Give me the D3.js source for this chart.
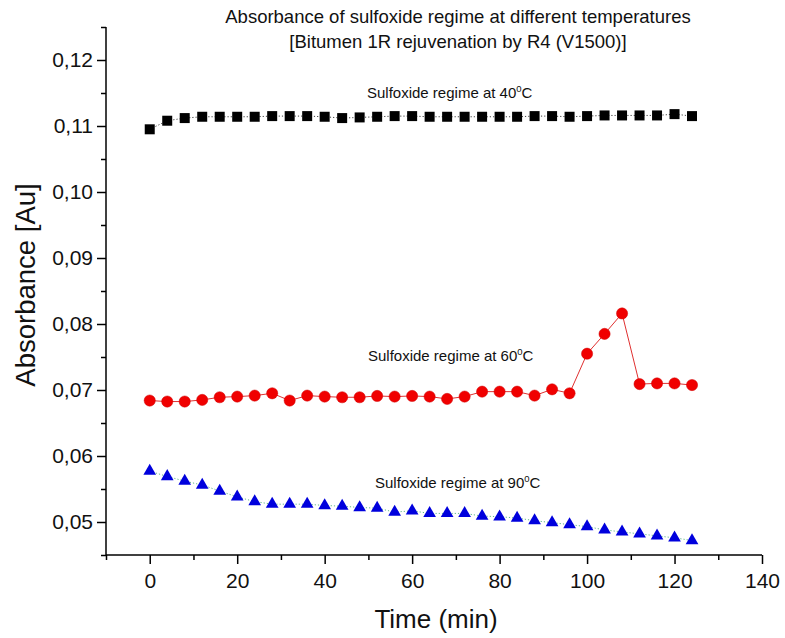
<!DOCTYPE html>
<html>
<head>
<meta charset="utf-8">
<script src="https://cdn.jsdelivr.net/npm/d3@7"></script>
<style>
  html, body { margin: 0; padding: 0; background: #fff; }
  svg { display: block; font-family: "Liberation Sans", Arial, sans-serif; }
</style>
</head>
<body>
<svg id="chart" width="785" height="638"></svg>
<script>
// Sampling times (min)
const times = [0, 4, 8, 12, 16, 20, 24, 28, 32, 36, 40, 44, 48, 52, 56, 60,
               64, 68, 72, 76, 80, 84, 88, 92, 96, 100, 104, 108, 112, 116, 120, 124];

// Absorbance of the sulfoxide band at 40 °C
const abs40 = [0.1095, 0.1108, 0.1112, 0.1114, 0.1114, 0.1114, 0.1114, 0.1115,
               0.1115, 0.1115, 0.1114, 0.1112, 0.1113, 0.1114, 0.1115, 0.1115,
               0.1114, 0.1114, 0.1114, 0.1114, 0.1114, 0.1114, 0.1115, 0.1115,
               0.1114, 0.1115, 0.1116, 0.1116, 0.1116, 0.1116, 0.1118, 0.1115];

// Absorbance of the sulfoxide band at 60 °C
const abs60 = [0.0684, 0.06825, 0.06825, 0.0685, 0.0689, 0.0690, 0.06915, 0.0695,
               0.0684, 0.06915, 0.0690, 0.0689, 0.0689, 0.0691, 0.0690, 0.0691,
               0.0690, 0.06865, 0.0690, 0.06975, 0.06975, 0.06975, 0.06915, 0.0701,
               0.0695, 0.0755, 0.0785, 0.0816, 0.0709, 0.0710, 0.0710, 0.07075];

// Absorbance of the sulfoxide band at 90 °C
const abs90 = [0.0577, 0.0569, 0.0562, 0.0556, 0.0547, 0.0538, 0.0531, 0.0527,
               0.0527, 0.0527, 0.0525, 0.0524, 0.0522, 0.0521, 0.0515, 0.0517,
               0.0513, 0.0513, 0.0513, 0.0509, 0.0508, 0.0506, 0.0502, 0.0499,
               0.0496, 0.0493, 0.0488, 0.0485, 0.0482, 0.0479, 0.0476, 0.0472];

// Axis ticks
const xTicks = [0, 20, 40, 60, 80, 100, 120, 140];
const xMinorTicks = [-10, 10, 30, 50, 70, 90, 110, 130];
const yTicks = [0.05, 0.06, 0.07, 0.08, 0.09, 0.10, 0.11, 0.12];
const yMinorTicks = [0.045, 0.055, 0.065, 0.075, 0.085, 0.095, 0.105, 0.115, 0.125];

const titleLines = ["Absorbance of sulfoxide regime at different temperatures",
                    "[Bitumen 1R rejuvenation by R4 (V1500)]"];
const seriesLabels = [
  { base: "Sulfoxide regime at 40", t: 0.1142, x: 367 },
  { base: "Sulfoxide regime at 60", t: 0.0744, x: 368 },
  { base: "Sulfoxide regime at 90", t: 0.0551, x: 375 }
];

const svg = d3.select("#chart");

const x = d3.scaleLinear().domain([-10, 140]).range([106, 762]);
const y = d3.scaleLinear().domain([0.045, 0.125]).range([555, 27]);

const fmt = d => d3.format(".2f")(d).replace(".", ",");

// X axis
const gx = svg.append("g").attr("transform", `translate(0,${y(0.045)})`);
gx.call(d3.axisBottom(x).tickValues(xTicks).tickFormat(d3.format("d"))
        .tickSize(9).tickPadding(9));
gx.append("g").call(d3.axisBottom(x).tickValues(xMinorTicks).tickFormat("").tickSize(5))
  .select(".domain").remove();
gx.selectAll("text").attr("font-size", 21).attr("fill", "#111").style("font-family", "inherit");

// Y axis
const gy = svg.append("g").attr("transform", `translate(${x(-10)},0)`);
gy.call(d3.axisLeft(y).tickValues(yTicks).tickFormat(fmt)
        .tickSize(9).tickPadding(4));
gy.append("g").call(d3.axisLeft(y).tickValues(yMinorTicks).tickFormat("").tickSize(5))
  .select(".domain").remove();
gy.selectAll("text").attr("font-size", 21).attr("fill", "#111").style("font-family", "inherit");

svg.selectAll(".domain, .tick line").attr("stroke", "#000").attr("stroke-width", 1.5);
gx.select(".domain").attr("d", `M${x(-10)},0H${x(140)}`);
gy.select(".domain").attr("d", `M0,${y(0.045)}V${y(0.125)}`);

// Axis titles
svg.append("text").attr("x", 436).attr("y", 628).attr("text-anchor", "middle")
  .attr("font-size", 26).attr("fill", "#111").text("Time (min)");
svg.append("text").attr("transform", "translate(35,285) rotate(-90)")
  .attr("text-anchor", "middle").attr("font-size", 27.5).attr("fill", "#111")
  .text("Absorbance [Au]");

// Chart title
svg.selectAll(".title").data(titleLines).enter().append("text")
  .attr("class", "title").attr("x", 458).attr("y", (d, i) => 23 + i * 25)
  .attr("text-anchor", "middle").attr("font-size", 18.5).attr("fill", "#111")
  .text(d => d);

// Connecting lines
const line = vals => d3.line().x((d, i) => x(times[i])).y(d => y(d))(vals);
svg.append("path").attr("d", line(abs40)).attr("fill", "none")
  .attr("stroke", "#444").attr("stroke-width", 1).attr("stroke-dasharray", "1.2,2");
svg.append("path").attr("d", line(abs60)).attr("fill", "none")
  .attr("stroke", "#e03030").attr("stroke-width", 1);
svg.append("path").attr("d", line(abs90)).attr("fill", "none")
  .attr("stroke", "#5fb88a").attr("stroke-width", 1).attr("stroke-dasharray", "1.2,2");

// Markers
svg.append("g").selectAll("path").data(abs40).enter().append("path")
  .attr("transform", (d, i) => `translate(${x(times[i])},${y(d)})`)
  .attr("d", d3.symbol(d3.symbolSquare, 100)).attr("fill", "#000");

svg.append("g").selectAll("circle").data(abs60).enter().append("circle")
  .attr("cx", (d, i) => x(times[i])).attr("cy", d => y(d)).attr("r", 5.6)
  .attr("fill", "#f00000").attr("stroke", "#d00000").attr("stroke-width", 0.5);

svg.append("g").selectAll("path").data(abs90).enter().append("path")
  .attr("transform", (d, i) => `translate(${x(times[i])},${y(d)})`)
  .attr("d", d3.symbol(d3.symbolTriangle, 70)).attr("fill", "#0000dd");

// Series annotations with superscript degree
seriesLabels.forEach(s => {
  const t = svg.append("text").attr("x", s.x).attr("y", y(s.t))
    .attr("font-size", 15).attr("fill", "#111");
  t.append("tspan").text(s.base);
  t.append("tspan").attr("font-size", 9.5).attr("dy", -6).text("0");
  t.append("tspan").attr("dy", 6).text("C");
});
</script>
</body>
</html>
